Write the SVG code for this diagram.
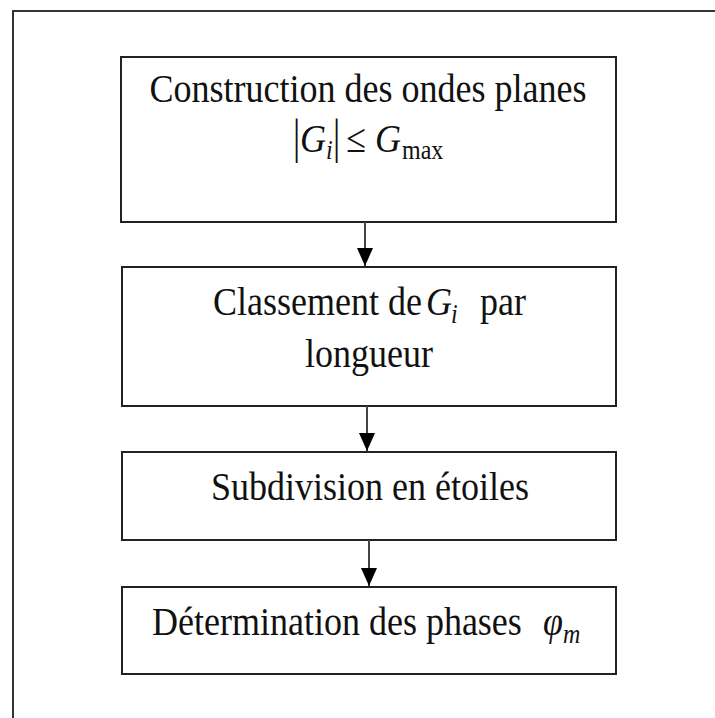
<svg xmlns="http://www.w3.org/2000/svg" width="715" height="718" viewBox="0 0 715 718">
<style>
.box{fill:#fff;stroke:#222;stroke-width:2}
.t{font-family:"Liberation Serif","Times New Roman",serif;font-size:36px;fill:#111}
.it{font-style:italic}
.sub{font-size:24px}
.edge{stroke:#444;stroke-width:2;fill:none}
</style>
<defs>
<marker id="ah" markerWidth="18" markerHeight="16" refX="18" refY="8" orient="auto" markerUnits="userSpaceOnUse" viewBox="0 0 18 16">
<path d="M0,0 L18,8 L0,16 Z" fill="#000"/>
</marker>
</defs>
<rect x="13" y="11" width="720" height="720" fill="none" stroke="#333" stroke-width="2"/>
<g id="n1">
<rect class="box" x="121" y="57" width="495" height="165"/>
<text class="t" text-anchor="middle" transform="translate(368,102) scale(1,1.13)">Construction des ondes planes</text>
<text class="t" font-size="46" transform="translate(293,153) scale(1,1.35)">|</text>
<text class="t it" font-size="38" transform="translate(300,152) scale(1,1.13)">G</text>
<text class="t it sub" transform="translate(326,159) scale(1,1.13)">i</text>
<text class="t" font-size="46" transform="translate(333,153) scale(1,1.35)">|</text>
<text class="t" transform="translate(346,152) scale(1,1.13)">≤</text>
<text class="t it" font-size="38" transform="translate(375,152) scale(1,1.13)">G</text>
<text class="t sub" transform="translate(402,159) scale(1,1.13)">max</text>
</g>
<g id="n2">
<rect class="box" x="122" y="267" width="494" height="139"/>
<text class="t" transform="translate(213,315) scale(1,1.13)">Classement de</text>
<text class="t it" transform="translate(426,315) scale(1,1.13)">G</text>
<text class="t it sub" transform="translate(451,323) scale(1,1.13)">i</text>
<text class="t" transform="translate(480,315) scale(1,1.13)">par</text>
<text class="t" text-anchor="middle" transform="translate(369,367) scale(1,1.13)">longueur</text>
</g>
<g id="n3">
<rect class="box" x="122" y="452" width="494" height="88"/>
<text class="t" text-anchor="middle" transform="translate(370,500) scale(1,1.13)">Subdivision en étoiles</text>
</g>
<g id="n4">
<rect class="box" x="122" y="587" width="494" height="87"/>
<text class="t" transform="translate(152,635) scale(1,1.13)">Détermination des phases</text>
<text class="t it" transform="translate(543,635) scale(1,1.13)">φ</text>
<text class="t it sub" transform="translate(563,643) scale(1,1.13)">m</text>
</g>
<g id="edges">
<line class="edge" x1="365" y1="222" x2="365" y2="266" marker-end="url(#ah)"/>
<line class="edge" x1="367" y1="406" x2="367" y2="451" marker-end="url(#ah)"/>
<line class="edge" x1="369" y1="540" x2="369" y2="586" marker-end="url(#ah)"/>
</g>
</svg>
